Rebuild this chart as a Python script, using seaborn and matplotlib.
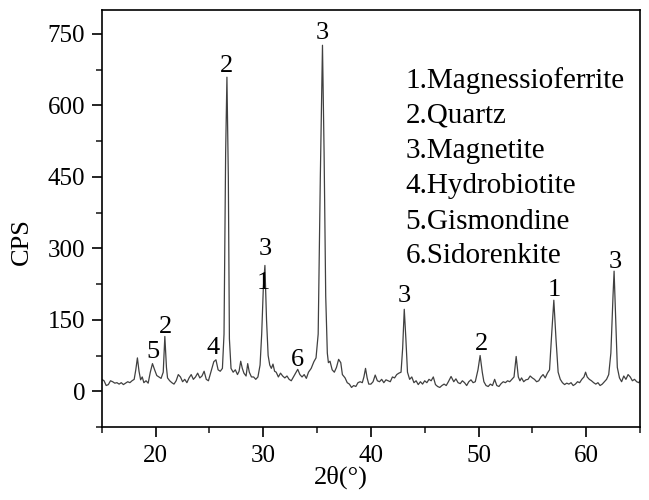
import numpy as np
import pandas as pd
import matplotlib
matplotlib.use("Agg")
import matplotlib.pyplot as plt
import seaborn as sns
from matplotlib.ticker import MultipleLocator

# XRD pattern (2theta in degrees, counts per second)
two_theta = [
    15.0, 15.2, 15.4, 15.6, 15.8, 16.0, 16.2, 16.4, 16.6, 16.8, 17.0, 17.2, 17.4, 17.6, 17.8,
    18.0, 18.15, 18.3, 18.45, 18.6, 18.75, 18.9, 19.1, 19.3, 19.5, 19.7, 19.9, 20.1, 20.3, 20.5,
    20.7, 20.85, 21.0, 21.1, 21.3, 21.5, 21.7, 21.9, 22.1, 22.3, 22.5, 22.7, 22.9, 23.1, 23.3,
    23.5, 23.7, 23.9, 24.1, 24.3, 24.5, 24.7, 24.9, 25.1, 25.4, 25.6, 25.8, 26.0, 26.2, 26.35,
    26.5, 26.62, 26.75, 26.85, 27.0, 27.2, 27.4, 27.6, 27.75, 27.9, 28.05, 28.2, 28.4, 28.55, 28.7,
    28.9, 29.1, 29.3, 29.5, 29.7, 29.85, 30.0, 30.15, 30.3, 30.45, 30.6, 30.75, 30.9, 31.05, 31.2,
    31.4, 31.6, 31.8, 32.0, 32.2, 32.4, 32.6, 32.8, 33.0, 33.2, 33.4, 33.6, 33.8, 34.0, 34.2,
    34.45, 34.7, 34.9, 35.1, 35.3, 35.5, 35.65, 35.8, 35.95, 36.05, 36.2, 36.4, 36.6, 36.8, 37.0,
    37.2, 37.35, 37.6, 37.8, 38.0, 38.2, 38.4, 38.6, 38.8, 39.0, 39.2, 39.35, 39.5, 39.65, 39.8,
    40.0, 40.2, 40.4, 40.6, 40.8, 41.0, 41.2, 41.4, 41.6, 41.8, 42.0, 42.2, 42.4, 42.6, 42.8,
    42.95, 43.1, 43.25, 43.4, 43.6, 43.8, 44.0, 44.2, 44.4, 44.6, 44.8, 45.0, 45.2, 45.4, 45.6,
    45.8, 46.0, 46.2, 46.4, 46.6, 46.8, 47.0, 47.2, 47.45, 47.7, 47.9, 48.1, 48.3, 48.5, 48.7,
    48.9, 49.1, 49.3, 49.5, 49.7, 49.95, 50.15, 50.35, 50.5, 50.7, 50.9, 51.1, 51.3, 51.5, 51.7,
    51.9, 52.1, 52.3, 52.5, 52.7, 52.9, 53.1, 53.3, 53.5, 53.7, 53.85, 54.0, 54.2, 54.4, 54.6,
    54.8, 55.0, 55.2, 55.4, 55.6, 55.8, 56.0, 56.2, 56.4, 56.6, 56.8, 57.0, 57.2, 57.4, 57.6,
    57.8, 58.0, 58.2, 58.4, 58.6, 58.8, 59.0, 59.2, 59.4, 59.6, 59.8, 59.95, 60.1, 60.3, 60.5,
    60.7, 60.9, 61.1, 61.3, 61.5, 61.7, 61.9, 62.1, 62.3, 62.5, 62.6, 62.75, 62.9, 63.1, 63.3,
    63.5, 63.7, 63.9, 64.1, 64.3, 64.5, 64.7, 64.9, 65.0,
]
cps = [
    25, 22, 12, 14, 22, 20, 17, 18, 15, 18, 14, 17, 20, 18, 22,
    25, 45, 70, 42, 24, 30, 18, 22, 17, 40, 58, 45, 33, 30, 27,
    40, 115, 50, 28, 22, 18, 15, 22, 35, 30, 20, 25, 18, 28, 35,
    25, 30, 38, 28, 32, 42, 25, 22, 38, 62, 66, 45, 42, 48, 120,
    500, 659, 450, 110, 48, 40, 45, 35, 42, 63, 48, 38, 32, 58, 40,
    30, 30, 25, 30, 55, 120, 215, 264, 150, 75, 55, 48, 57, 42, 40,
    30, 38, 32, 28, 32, 25, 22, 30, 38, 46, 35, 30, 35, 27, 40,
    48, 62, 70, 120, 450, 726, 500, 200, 80, 60, 63, 45, 40, 50, 67,
    60, 35, 28, 18, 15, 8, 12, 10, 18, 20, 18, 30, 48, 28, 15,
    15, 20, 34, 22, 20, 25, 18, 24, 22, 20, 30, 28, 35, 38, 40,
    90, 172, 110, 40, 25, 30, 18, 22, 14, 20, 15, 22, 18, 25, 22,
    30, 14, 10, 8, 12, 15, 12, 20, 31, 20, 26, 18, 16, 22, 18,
    12, 20, 24, 18, 20, 45, 75, 40, 20, 12, 10, 15, 12, 25, 12,
    10, 16, 20, 18, 22, 20, 25, 30, 73, 30, 22, 28, 20, 24, 25,
    32, 28, 25, 20, 22, 30, 35, 28, 38, 45, 120, 191, 110, 40, 25,
    18, 14, 17, 15, 18, 12, 15, 20, 18, 25, 30, 40, 30, 25, 22,
    18, 15, 18, 12, 15, 20, 25, 35, 80, 200, 252, 150, 50, 28, 20,
    32, 25, 35, 30, 22, 25, 20, 18, 22,
]

# peak labels: phase number, position, label height
peak_nums = ["5", "2", "4", "2", "1", "3", "6", "3", "3", "2", "1", "3"]
peak_x = [19.7, 20.9, 25.3, 26.6, 29.97, 30.15, 33.2, 35.5, 43.1, 50.3, 57.0, 62.7]
peak_y = [82, 134, 90, 682, 227, 298, 65, 752, 200, 100, 212, 272]

phases = ["1.Magnessioferrite", "2.Quartz", "3.Magnetite",
          "4.Hydrobiotite", "5.Gismondine", "6.Sidorenkite"]

sns.set_style("ticks")
plt.rcParams["font.family"] = ["Liberation Serif", "DejaVu Serif"]
plt.rcParams["text.color"] = "black"
plt.rcParams["axes.labelcolor"] = "black"

df = pd.DataFrame({"2theta": two_theta, "CPS": cps})

fig, ax = plt.subplots(figsize=(6.49, 5.0), dpi=100)
fig.subplots_adjust(left=0.157, right=0.986, top=0.98, bottom=0.146)

sns.lineplot(data=df, x="2theta", y="CPS", ax=ax, color="#404040", linewidth=0.9)

ax.set_xlim(15, 65)
ax.set_ylim(-75, 800)
ax.xaxis.set_major_locator(MultipleLocator(10))
ax.xaxis.set_minor_locator(MultipleLocator(5))
ax.yaxis.set_major_locator(MultipleLocator(150))
ax.yaxis.set_minor_locator(MultipleLocator(75))
ax.tick_params(which="major", direction="out", length=7, width=1.2, labelsize=18,
               colors="black", top=False, right=False)
ax.tick_params(axis="x", which="major", pad=6)
ax.tick_params(axis="y", which="major", pad=5)
ax.tick_params(which="minor", direction="out", length=4.5, width=1.2, top=False, right=False)
for s in ax.spines.values():
    s.set_visible(True)
    s.set_linewidth(1.2)
    s.set_color("black")

ax.set_xlabel("2θ(°)", fontsize=19)
ax.set_ylabel("CPS", fontsize=19)
ax.xaxis.set_label_coords(0.444, -0.092)
ax.yaxis.set_label_coords(-0.128, 0.444)

for n, x, y in zip(peak_nums, peak_x, peak_y):
    ax.text(x, y, n, fontsize=19, ha="center", va="center")

leg_y = [652, 579, 505, 430, 356, 283]
for t, y in zip(phases, leg_y):
    ax.text(43.2, y, t, fontsize=21, ha="left", va="center")

plt.savefig("out.png", dpi=100)
